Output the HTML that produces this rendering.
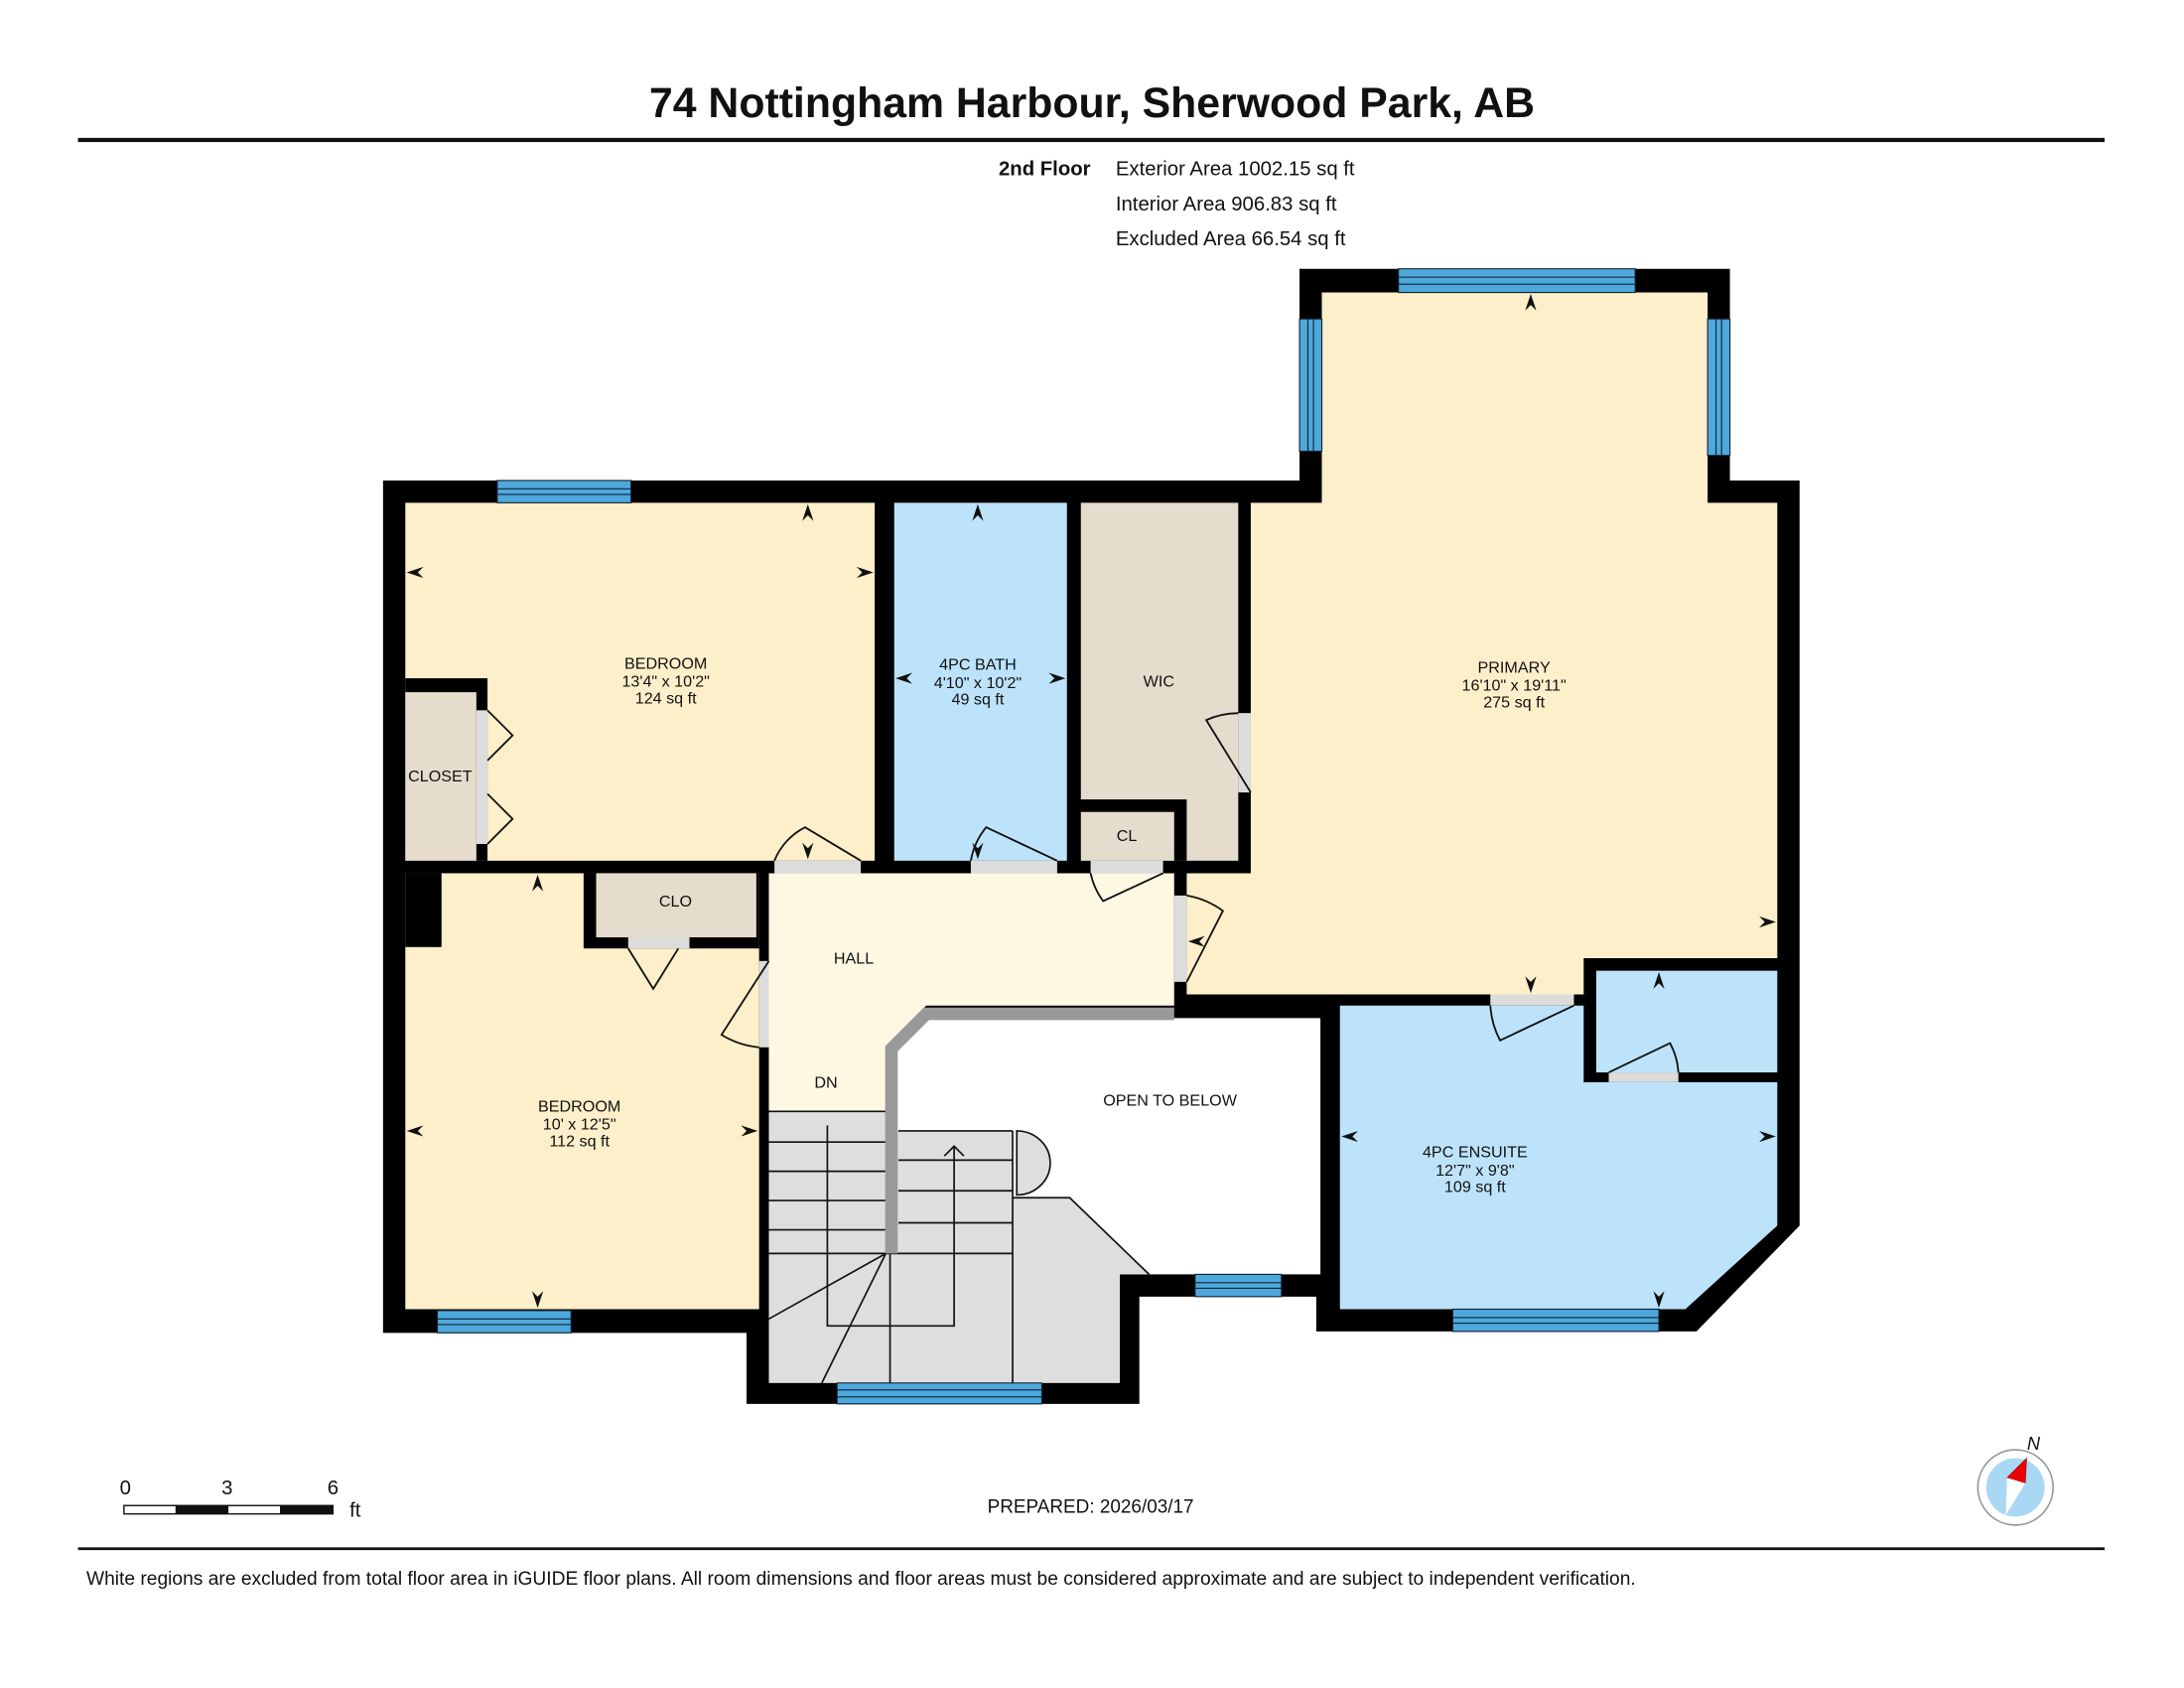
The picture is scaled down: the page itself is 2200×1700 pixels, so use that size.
<!DOCTYPE html>
<html><head><meta charset="utf-8"><style>
html,body{margin:0;padding:0;background:#fff}
svg{display:block}
text{font-family:"Liberation Sans",Arial,sans-serif;fill:#111}
</style></head><body>
<svg width="2200" height="1700" viewBox="0 0 1568 1212" preserveAspectRatio="none" xmlns="http://www.w3.org/2000/svg">
<rect width="1568" height="1212" fill="#fff"/>
<text x="784" y="84" font-size="30.5" font-weight="bold" text-anchor="middle">74 Nottingham Harbour, Sherwood Park, AB</text>
<rect x="56" y="99" width="1455" height="3" fill="#111"/>
<text x="783" y="126" font-size="14.5" font-weight="bold" text-anchor="end">2nd Floor</text>
<text x="801" y="126" font-size="14.5">Exterior Area 1002.15 sq ft</text>
<text x="801" y="151" font-size="14.5">Interior Area 906.83 sq ft</text>
<text x="801" y="176" font-size="14.5">Excluded Area 66.54 sq ft</text>

<polygon fill="#000" points="275,345 933,345 933,193 1242,193 1242,345 1292,345 1292,880 1218,956 945,956 945,931 818,931 818,1008 536,1008 536,957 275,957"/>
<rect x="636" y="731" width="312" height="184" fill="#fff"/>
<rect x="291" y="361" width="337" height="257" fill="#fdefc9"/>
<rect x="291" y="487" width="59" height="131" fill="#000"/>
<rect x="291" y="497" width="51" height="121" fill="#e6dccd"/>
<rect x="342" y="510" width="8" height="96" fill="#dcdcdc"/>
<rect x="642" y="361" width="124" height="257" fill="#bde3fb"/>
<rect x="776" y="361" width="113" height="257" fill="#e6dccd"/>
<rect x="768" y="574" width="84" height="44" fill="#000"/>
<rect x="776" y="583" width="67" height="35" fill="#e6dccd"/>
<polygon fill="#fdefc9" points="949,210 1226,210 1226,361 1276,361 1276,688 1137,688 1137,714 852,714 852,627 898,627 898,361 949,361"/>
<polygon fill="#bde3fb" points="962,722 1137,722 1137,777 1276,777 1276,880 1210,940 962,940"/>
<rect x="1146" y="697" width="130" height="73" fill="#bde3fb"/>
<rect x="291" y="627" width="254" height="313" fill="#fdefc9"/>
<rect x="291" y="627" width="26" height="53" fill="#000"/>
<rect x="419" y="627" width="126" height="54" fill="#000"/>
<rect x="428" y="627" width="115" height="46" fill="#e6dccd"/>
<rect x="451" y="673" width="44" height="8" fill="#dcdcdc"/>
<polygon fill="#fef8e3" points="552,627 843,627 843,722 665,722 636,752 636,798 552,798"/>
<polygon fill="#dedede" points="552,798 636,798 636,812 727,812 727,860 768,860 825,915 804,915 804,993 552,993"/>
<rect x="556" y="618" width="62" height="9" fill="#dcdcdc"/>
<rect x="697" y="618" width="62" height="9" fill="#dcdcdc"/>
<rect x="783" y="618" width="52" height="9" fill="#dcdcdc"/>
<rect x="889" y="512" width="9" height="57" fill="#dcdcdc"/>
<rect x="545" y="690" width="7" height="62" fill="#dcdcdc"/>
<rect x="843" y="643" width="9" height="62" fill="#dcdcdc"/>
<rect x="1070" y="714" width="60" height="8" fill="#dcdcdc"/>
<rect x="1155" y="770" width="50" height="7" fill="#dcdcdc"/>
<g fill="#4ea8dc" stroke="#123" stroke-width="0.8">
<rect x="357" y="345" width="96" height="16"/><line x1="357" y1="351" x2="453" y2="351"/><line x1="357" y1="355" x2="453" y2="355"/>
<rect x="1004" y="193" width="170" height="17"/><line x1="1004" y1="199" x2="1174" y2="199"/><line x1="1004" y1="204" x2="1174" y2="204"/>
<rect x="933" y="229" width="16" height="95"/><line x1="939" y1="229" x2="939" y2="324"/><line x1="943" y1="229" x2="943" y2="324"/>
<rect x="1226" y="229" width="16" height="98"/><line x1="1232" y1="229" x2="1232" y2="327"/><line x1="1236" y1="229" x2="1236" y2="327"/>
<rect x="314" y="941" width="96" height="16"/><line x1="314" y1="947" x2="410" y2="947"/><line x1="314" y1="951" x2="410" y2="951"/>
<rect x="601" y="993" width="147" height="15"/><line x1="601" y1="998" x2="748" y2="998"/><line x1="601" y1="1003" x2="748" y2="1003"/>
<rect x="858" y="915" width="62" height="16"/><line x1="858" y1="921" x2="920" y2="921"/><line x1="858" y1="925" x2="920" y2="925"/>
<rect x="1043" y="940" width="148" height="16"/><line x1="1043" y1="946" x2="1191" y2="946"/><line x1="1043" y1="950" x2="1191" y2="950"/>
</g>
<g stroke="#111" stroke-width="1.2" fill="none">
<line x1="552" y1="798" x2="636" y2="798"/><line x1="552" y1="820" x2="636" y2="820"/><line x1="552" y1="841" x2="636" y2="841"/><line x1="552" y1="862" x2="636" y2="862"/><line x1="552" y1="883" x2="636" y2="883"/><line x1="552" y1="900" x2="727" y2="900"/>
<line x1="645" y1="812" x2="727" y2="812"/><line x1="645" y1="833" x2="727" y2="833"/><line x1="645" y1="855" x2="727" y2="855"/><line x1="645" y1="878" x2="727" y2="878"/>
<line x1="727" y1="812" x2="727" y2="993"/><line x1="639" y1="900" x2="639" y2="993"/>
<line x1="636" y1="900" x2="552" y2="947"/><line x1="636" y1="900" x2="590" y2="993"/>
<polyline points="594,808 594,952 685,952 685,823"/><polyline points="678,830 685,823 692,830"/>
<path d="M730,812 A24,23 0 0 1 730,858 Z" fill="#dedede"/>
<polyline points="727,860 768,860 825,915"/>
</g>
<polyline points="843,728 665,728 640,753 640,900" fill="none" stroke="#999" stroke-width="9"/>
<g stroke="#111" stroke-width="1.3" fill="none">
<path d="M618,618 L578,594 A46,46 0 0 0 556,618"/>
<path d="M759,618 L708,594 A52,52 0 0 0 697,618"/>
<path d="M835,627 L792,647 A52,52 0 0 1 783,627"/>
<path d="M898,569 L866,517 A57,57 0 0 1 889,512"/>
<path d="M552,690 L518,743 A62,62 0 0 0 545,752"/>
<path d="M852,705 L878,654 A62,62 0 0 0 852,643"/>
<path d="M1130,722 L1077,747 A60,60 0 0 1 1070,722"/>
<path d="M1155,770 L1199,749 A50,50 0 0 1 1205,770"/>
<polyline points="451,681 469,710 487,681"/>
<polyline points="350,510 368,528 350,546"/><polyline points="350,570 368,588 350,606"/>
</g>
<g fill="#111">
<path d="M580,362 l-4,12 4,-4 4,4z"/><path d="M702,362 l-4,12 4,-4 4,4z"/><path d="M1099,211 l-4,12 4,-4 4,4z"/>
<path d="M292,411 l12,-4 -4,4 4,4z"/><path d="M627,411 l-12,-4 4,4 -4,4z"/>
<path d="M643,487 l12,-4 -4,4 4,4z"/><path d="M765,487 l-12,-4 4,4 -4,4z"/>
<path d="M580,617 l-4,-12 4,4 4,-4z"/><path d="M702,617 l-4,-12 4,4 4,-4z"/>
<path d="M386,628 l-4,12 4,-4 4,4z"/><path d="M292,812 l12,-4 -4,4 4,4z"/><path d="M544,812 l-12,-4 4,4 -4,4z"/><path d="M386,939 l-4,-12 4,4 4,-4z"/>
<path d="M1275,662 l-12,-4 4,4 -4,4z"/><path d="M1099,713 l-4,-12 4,4 4,-4z"/><path d="M853,676 l12,-4 -4,4 4,4z"/>
<path d="M1191,698 l-4,12 4,-4 4,4z"/><path d="M963,816 l12,-4 -4,4 4,4z"/><path d="M1275,816 l-12,-4 4,4 -4,4z"/><path d="M1191,939 l-4,-12 4,4 4,-4z"/>
</g>
<g font-size="11.5" text-anchor="middle">
<text x="478" y="480">BEDROOM</text><text x="478" y="493">13'4" x 10'2"</text><text x="478" y="505">124 sq ft</text>
<text x="702" y="481">4PC BATH</text><text x="702" y="494">4'10" x 10'2"</text><text x="702" y="506">49 sq ft</text>
<text x="832" y="493">WIC</text>
<text x="1087" y="483">PRIMARY</text><text x="1087" y="496">16'10" x 19'11"</text><text x="1087" y="508">275 sq ft</text>
<text x="316" y="561">CLOSET</text><text x="809" y="604">CL</text><text x="485" y="651">CLO</text>
<text x="613" y="692">HALL</text><text x="593" y="781">DN</text>
<text x="840" y="794">OPEN TO BELOW</text>
<text x="416" y="798">BEDROOM</text><text x="416" y="811">10' x 12'5"</text><text x="416" y="823">112 sq ft</text>
<text x="1059" y="831">4PC ENSUITE</text><text x="1059" y="844">12'7" x 9'8"</text><text x="1059" y="856">109 sq ft</text>
</g>
<rect x="89" y="1081" width="150" height="6" fill="#fff" stroke="#111" stroke-width="1"/>
<rect x="126" y="1081" width="38" height="6" fill="#111"/><rect x="201" y="1081" width="38" height="6" fill="#111"/>
<g font-size="14.5"><text x="86" y="1073">0</text><text x="159" y="1073">3</text><text x="235" y="1073">6</text><text x="251" y="1089">ft</text></g>
<text x="783" y="1086" font-size="13.5" text-anchor="middle">PREPARED: 2026/03/17</text>
<circle cx="1447" cy="1068" r="27" fill="#fff" stroke="#999" stroke-width="1.2"/>
<circle cx="1447" cy="1068" r="21" fill="#a9d8f5"/>
<polygon points="1455,1047 1441,1061 1454,1065" fill="#e00" stroke="#900" stroke-width="0.5"/>
<polygon points="1441,1061 1454,1065 1440,1088" fill="#fff"/>
<text x="1460" y="1041" font-size="13" font-style="italic" text-anchor="middle">N</text>
<rect x="56" y="1111" width="1455" height="2" fill="#111"/>
<text x="62" y="1138" font-size="13.7">White regions are excluded from total floor area in iGUIDE floor plans. All room dimensions and floor areas must be considered approximate and are subject to independent verification.</text>
</svg>
</body></html>
